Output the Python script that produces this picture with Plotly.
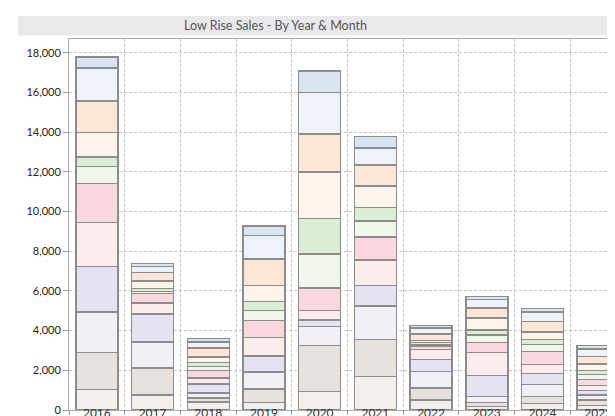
import plotly.graph_objects as go

years = ["2016", "2017", "2018", "2019", "2020", "2021", "2022", "2023", "2024", "2025"]
months = ["Jan", "Feb", "Mar", "Apr", "May", "Jun", "Jul", "Aug", "Sep", "Oct", "Nov", "Dec"]

jan = [1023, 756, 403, 388, 942, 1698, 494, 186, 338, 237]
feb = [1884, 1360, 202, 670, 2317, 1844, 609, 202, 342, 257]
mar = [2045, 1310, 251, 856, 958, 1712, 847, 302, 610, 252]
apr = [2287, 1425, 454, 806, 317, 1028, 604, 1058, 549, 226]
may = [2207, 539, 302, 942, 469, 1275, 494, 1149, 463, 272]
jun = [1975, 489, 388, 837, 1143, 1173, 176, 504, 645, 282]
jul = [856, 101, 200, 524, 1713, 802, 76, 367, 343, 272]
aug = [469, 151, 201, 453, 1803, 680, 100, 252, 272, 202]
sep = [1244, 383, 269, 806, 2343, 1073, 100, 605, 378, 327]
oct_ = [1592, 423, 453, 1325, 1899, 1073, 329, 524, 529, 378]
nov = [1647, 302, 303, 1193, 2101, 841, 317, 418, 468, 378]
dec = [554, 151, 184, 470, 1088, 589, 111, 161, 176, 166]

series = [jan, feb, mar, apr, may, jun, jul, aug, sep, oct_, nov, dec]
colors = ["#f3efec", "#e7e2de", "#f2f0f7", "#e5e3f3", "#fdecec", "#f9d9dd",
          "#eef7ea", "#d9eed5", "#fef4ea", "#fde6d5", "#edf3f9", "#d8e4ef"]

fig = go.Figure()
for name, vals, col in zip(months, series, colors):
    fig.add_trace(go.Bar(
        x=years, y=vals, name=name,
        marker=dict(color=col, line=dict(color="#8c8c8c", width=1.5)),
    ))

W, H = 615, 416
L, R, T, B = 61, 0, 31, 14
pw, ph = W - L - R, H - T - B

def px_x(x):
    return (x - L) / pw

def px_y(y):
    return (H - B - y) / ph

fig.update_layout(
    width=W, height=H,
    margin=dict(l=L, r=R, t=T, b=B, pad=0),
    barmode="stack",
    bargap=0.246,
    showlegend=False,
    paper_bgcolor="white",
    plot_bgcolor="white",
    font=dict(family="Lato", color="#333333"),
    shapes=[dict(type="rect", xref="paper", yref="paper",
                 x0=px_x(10), x1=px_x(640), y0=px_y(27.5), y1=px_y(8),
                 fillcolor="#e9e9ec", line=dict(width=0), layer="below")],
    annotations=[dict(text="Low Rise Sales - By Year & Month", xref="paper", yref="paper",
                      x=px_x(267.5), y=px_y(18), showarrow=False,
                      xanchor="center", yanchor="middle",
                      font=dict(family="Lato", size=12.5, color="#555555"))],
)

fig.update_xaxes(
    type="category",
    range=[-0.5, 9.446],
    tickson="boundaries",
    ticks="outside", ticklen=4, tickcolor="#999999",
    ticklabelstandoff=-8,
    showgrid=True, gridcolor="#c4c4c4", griddash="3px,2px", gridwidth=1,
    showline=True, linecolor="#aaaaaa", linewidth=1, mirror=True,
    tickfont=dict(family="Lato", size=12, color="#333333"),
)
fig.update_yaxes(
    range=[0, 18700],
    tickvals=[0, 2000, 4000, 6000, 8000, 10000, 12000, 14000, 16000, 18000],
    tickformat=",d",
    ticks="outside", ticklen=5, tickcolor="#999999",
    showgrid=True, gridcolor="#c4c4c4", griddash="3px,2px", gridwidth=1,
    zeroline=False,
    showline=True, linecolor="#aaaaaa", linewidth=1, mirror=True,
    tickfont=dict(family="Lato", size=11, color="#222222"),
)

fig.write_html("out.html")
